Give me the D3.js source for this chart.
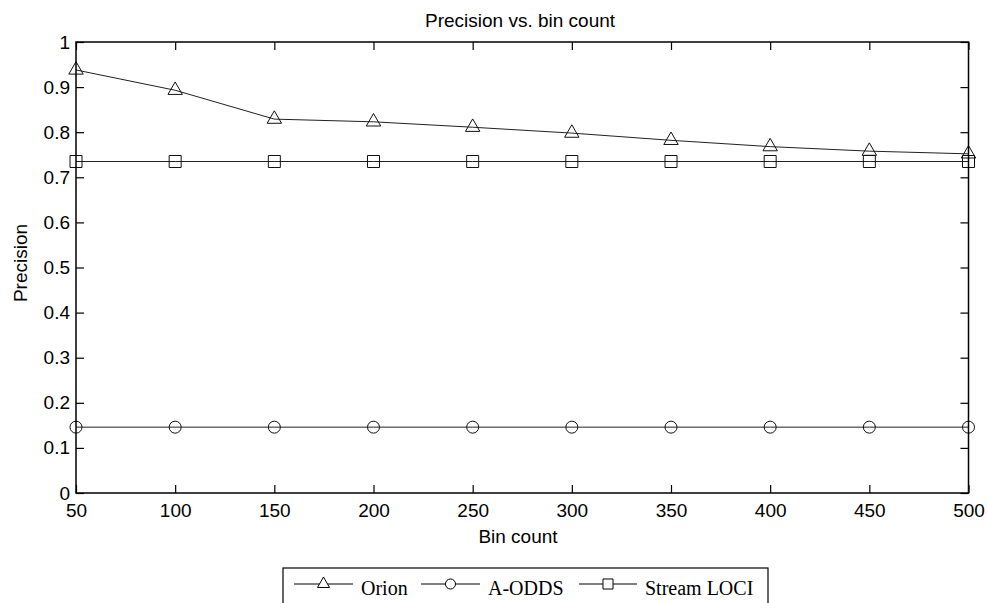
<!DOCTYPE html>
<html><head><meta charset="utf-8">
<script src="https://cdn.jsdelivr.net/npm/d3@7"></script>
<style>body{margin:0;background:#fff}svg{display:block}</style>
</head><body>
<svg id="c" width="988" height="603"></svg>
<script>
const binCounts = [50,100,150,200,250,300,350,400,450,500];
const orion = [0.938,0.893,0.829,0.823,0.811,0.798,0.782,0.768,0.758,0.752];
const aodds = [0.146,0.146,0.146,0.146,0.146,0.146,0.146,0.146,0.146,0.146];
const streamLoci = [0.735,0.735,0.735,0.735,0.735,0.735,0.735,0.735,0.735,0.735];
const yTicks = [0,0.1,0.2,0.3,0.4,0.5,0.6,0.7,0.8,0.9,1];
const seriesNames = ["Orion","A-ODDS","Stream LOCI"];

(function(){
const svg = d3.select("#c");
const L=76, R=968.5, T=42, B=493;
const x = d3.scaleLinear().domain([50,500]).range([L,R]);
const y = d3.scaleLinear().domain([0,1]).range([B,T]);
const sans = "'Liberation Sans', Arial, sans-serif";
const serif = "'Liberation Serif', 'Times New Roman', serif";
const tickLen = 8;
const fs = 19;

const series = [
  {name:seriesNames[0], vals:orion, sym:d3.symbolTriangle, size:90},
  {name:seriesNames[1], vals:aodds, sym:d3.symbolCircle, size:113},
  {name:seriesNames[2], vals:streamLoci, sym:d3.symbolSquare, size:144}
];
const line = d3.line().x((d,i)=>x(binCounts[i])).y(d=>y(d));
series.forEach(s=>{
  svg.append("path").attr("d",line(s.vals)).attr("fill","none").attr("stroke","#222").attr("stroke-width",1);
  svg.selectAll(null).data(s.vals).enter().append("path")
    .attr("d",d3.symbol().type(s.sym).size(s.size))
    .attr("transform",(d,i)=>`translate(${x(binCounts[i])},${y(d)})`)
    .attr("fill","none").attr("stroke","#111").attr("stroke-width",1);
});

const axB = d3.axisBottom(x).tickValues(binCounts).tickSize(-tickLen).tickPadding(11).tickFormat(d3.format("d"));
const axT = d3.axisTop(x).tickValues(binCounts).tickSize(-tickLen).tickFormat("");
const axL = d3.axisLeft(y).tickValues(yTicks).tickSize(-tickLen).tickPadding(6).tickFormat(d=>d3.format("~g")(d));
const axR = d3.axisRight(y).tickValues(yTicks).tickSize(-tickLen).tickFormat("");
[[axB,`translate(0,${B})`],[axT,`translate(0,${T})`],[axL,`translate(${L},0)`],[axR,`translate(${R},0)`]].forEach(([a,t])=>{
  const g = svg.append("g").attr("transform",t).call(a);
  g.select(".domain").remove();
  g.selectAll("line").attr("stroke","#000").attr("stroke-width",1.2);
  g.selectAll("text").attr("font-family",sans).attr("font-size",fs).attr("fill","#000");
});
svg.append("rect").attr("x",L).attr("y",T).attr("width",R-L).attr("height",B-T)
  .attr("fill","none").attr("stroke","#000").attr("stroke-width",1.5);

svg.append("text").attr("x",520).attr("y",27).attr("text-anchor","middle")
  .attr("font-family",sans).attr("font-size",fs).text("Precision vs. bin count");
svg.append("text").attr("x",518).attr("y",543).attr("text-anchor","middle")
  .attr("font-family",sans).attr("font-size",fs).text("Bin count");
svg.append("text").attr("transform",`translate(27,263) rotate(-90)`).attr("text-anchor","middle")
  .attr("font-family",sans).attr("font-size",fs).text("Precision");

const lg = svg.append("g");
lg.append("rect").attr("x",283).attr("y",568).attr("width",485).attr("height",50)
  .attr("fill","#fff").attr("stroke","#000").attr("stroke-width",1.2);
const legPos = [{x0:294,x1:353,tx:361},{x0:421,x1:480,tx:488},{x0:579,x1:637,tx:645}];
series.forEach((s,i)=>{
  const p = legPos[i], ly = 584;
  lg.append("line").attr("x1",p.x0).attr("x2",p.x1).attr("y1",ly).attr("y2",ly).attr("stroke","#000").attr("stroke-width",1);
  lg.append("path").attr("d",d3.symbol().type(s.sym).size(s.size*0.7))
    .attr("transform",`translate(${(p.x0+p.x1)/2},${ly})`).attr("fill","#fff").attr("stroke","#000");
  lg.append("text").attr("x",p.tx).attr("y",595).attr("font-family",serif).attr("font-size",20).text(s.name);
});
})();
</script>
</body></html>
